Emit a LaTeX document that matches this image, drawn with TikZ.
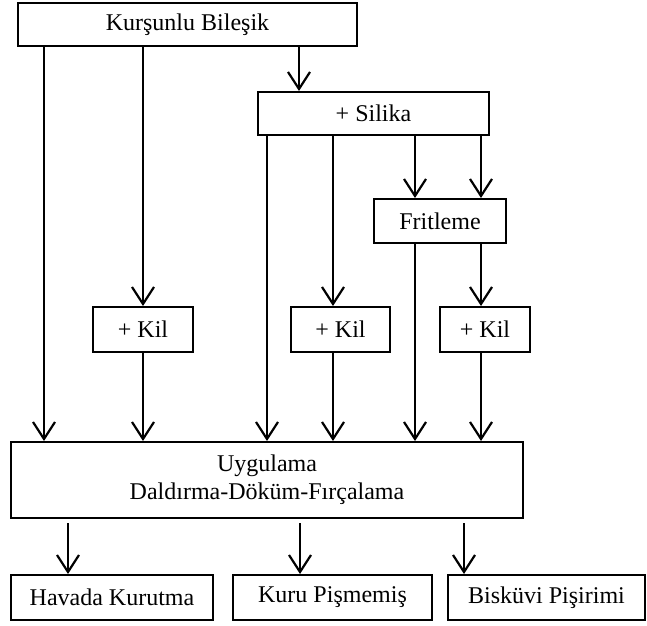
\documentclass[tikz,border=0pt]{standalone}
\usepackage{fontspec}
\setmainfont{Liberation Serif}
\usetikzlibrary{arrows.meta}
\begin{document}
\begin{tikzpicture}[x=1pt,y=-1pt,
  box/.style={draw, line width=2pt, inner sep=0pt, align=center,
    font=\fontsize{24}{28}\selectfont},
  arr/.style={line width=2.2pt,
    -{Straight Barb[length=17pt,width=22pt,line width=2.2pt]}}]
\useasboundingbox (0,0) rectangle (647,625);
% nodes
\node[box, minimum width=339pt, minimum height=43pt] (top) at (187.5,24.5) {Kurşunlu Bileşik};
\node[box, minimum width=231pt, minimum height=43pt] (sil) at (373.5,113.5) {+ Silika};
\node[box, minimum width=132pt, minimum height=44pt] (frit) at (440,221) {Fritleme};
\node[box, minimum width=100pt, minimum height=45pt] (kil1) at (143,329.5) {+ Kil};
\node[box, minimum width=99pt, minimum height=45pt] (kil2) at (340.5,329.5) {+ Kil};
\node[box, minimum width=90pt, minimum height=45pt] (kil3) at (485,329.5) {+ Kil};
\node[box, minimum width=512pt, minimum height=76pt] (uyg) at (267,480) {Uygulama\\Daldırma-Döküm-Fırçalama};
\node[box, minimum width=202pt, minimum height=45pt] (hav) at (112,597.5) {Havada Kurutma};
\node[box, minimum width=199pt, minimum height=45pt] (kuru) at (332.5,597.5) {Kuru Pişmemiş};
\node[box, minimum width=197pt, minimum height=45pt] (bisk) at (546.5,597.5) {Bisküvi Pişirimi};
% connectors
\draw[arr] (top.south -| 44,0) -- (uyg.north -| 44,0);
\draw[arr] (top.south -| 143,0) -- (kil1.north -| 143,0);
\draw[arr] (kil1.south -| 143,0) -- (uyg.north -| 143,0);
\draw[arr] (top.south -| 299,0) -- (sil.north -| 299,0);
\draw[arr] (sil.south -| 267,0) -- (uyg.north -| 267,0);
\draw[arr] (sil.south -| 333,0) -- (kil2.north -| 333,0);
\draw[arr] (kil2.south -| 333,0) -- (uyg.north -| 333,0);
\draw[arr] (sil.south -| 415,0) -- (frit.north -| 415,0);
\draw[arr] (frit.south -| 415,0) -- (uyg.north -| 415,0);
\draw[arr] (sil.south -| 481,0) -- (frit.north -| 481,0);
\draw[arr] (frit.south -| 481,0) -- (kil3.north -| 481,0);
\draw[arr] (kil3.south -| 481,0) -- (uyg.north -| 481,0);
\draw[arr, shorten <=4pt] (uyg.south -| 68,0) -- (hav.north -| 68,0);
\draw[arr, shorten <=4pt] (uyg.south -| 300,0) -- (kuru.north -| 300,0);
\draw[arr, shorten <=4pt] (uyg.south -| 464,0) -- (bisk.north -| 464,0);
\end{tikzpicture}
\end{document}
